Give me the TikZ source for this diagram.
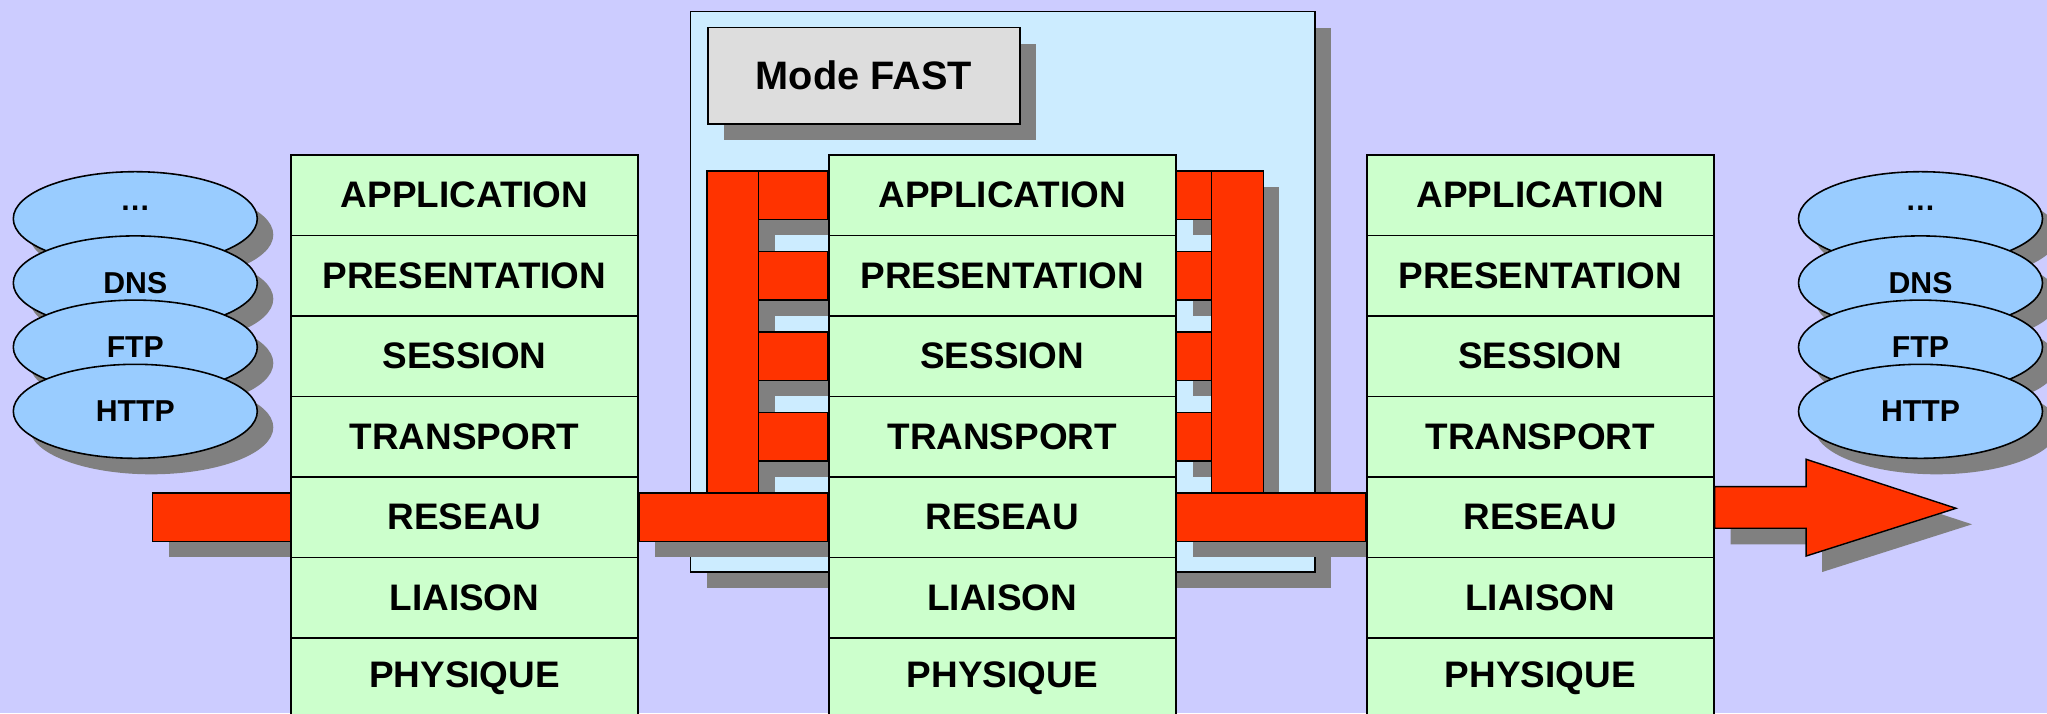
\documentclass[tikz,border=0pt]{standalone}
\usepackage{fontspec}
\setmainfont{Liberation Sans}
\usepackage{xcolor}
\usepackage{tikz}
\usetikzlibrary{calc,positioning,shapes.geometric,shadows}
\definecolor{fsbg}{RGB}{204,204,255}
\definecolor{fsgreen}{RGB}{204,255,204}
\definecolor{fscyan}{RGB}{204,236,255}
\definecolor{fsblue}{RGB}{153,204,255}
\definecolor{fsgrey}{RGB}{221,221,221}
\definecolor{fsred}{RGB}{255,51,0}
\definecolor{fsshade}{RGB}{128,128,128}
\pgfdeclarelayer{panel}
\pgfdeclarelayer{bars}
\pgfsetlayers{panel,bars,main}

\begin{document}
\begin{tikzpicture}[
  line width=0.45pt,
  dropgrey/.style={drop shadow={shadow xshift=0.16cm,shadow yshift=-0.16cm,fill=fsshade,opacity=1}},
  osi/.style={draw,fill=fsgreen,minimum width=3.47cm,minimum height=0.805cm,inner sep=0pt,
    font=\bfseries\fontsize{10.5}{12}\selectfont},
  proto/.style={ellipse,draw,fill=fsblue,dropgrey,minimum width=2.44cm,minimum height=0.94cm,inner sep=0pt,
    font=\bfseries\fontsize{8.6}{10}\selectfont},
  redbar/.style={draw,fill=fsred,dropgrey},
  zone/.style={draw,fill=fscyan,dropgrey,minimum width=6.245cm,minimum height=5.605cm},
  fastbox/.style={draw,fill=fsgrey,dropgrey,minimum width=3.12cm,minimum height=0.964cm,
    font=\bfseries\fontsize{11.3}{13}\selectfont}
]
  \useasboundingbox (0,0) rectangle (20.47,-7.13);
  \clip (0,0) rectangle (20.47,-7.13);

  % protocol piles on both sides
  \foreach \s/\x in {pl/1.353,pr/19.205}{
    \node[proto] (\s0) at (\x,-2.187) {\raisebox{0.87mm}[0pt][0pt]{…}};
    \node[proto] (\s1) at (\x,-2.829) {DNS};
    \node[proto] (\s2) at (\x,-3.471) {FTP};
    \node[proto] (\s3) at (\x,-4.113) {HTTP};
  }

  % the three OSI stacks
  \foreach \s/\x in {L/4.645,C/10.0225,R/15.4025}
    \foreach \t [count=\k] in {APPLICATION,PRESENTATION,SESSION,TRANSPORT,RESEAU,LIAISON,PHYSIQUE}
      \node[osi] (\s\k) at (\x,{-1.9525-0.805*(\k-1)}) {\t};

  \begin{pgfonlayer}{panel}
    \fill[fsbg] (0,0) rectangle (20.47,-7.13);
    \node[zone] (fastzone) at (10.0275,-2.9175) {};
    \node[fastbox] (fast) at (8.64,-0.758) {Mode FAST};
  \end{pgfonlayer}

  \begin{pgfonlayer}{bars}
    \coordinate (feed) at (1.527,-5.1725);
    \draw[redbar] ($(feed)+(0,0.242)$) rectangle ($(L5.west)+(0,-0.242)$);
    % left ladder
    \draw[redbar] ($(C1.west)+(-1.208,0.242)$) rectangle ($(C5.west)+(-0.692,0.242)$);
    \foreach \k in {1,...,4}
      \draw[redbar] ($(C\k.west)+(-0.692,0.242)$) rectangle ($(C\k.west)+(0,-0.242)$);
    % right ladder
    \foreach \k in {1,...,4}
      \draw[redbar] ($(C\k.east)+(0,0.242)$) rectangle ($(C\k.east)+(0.348,-0.242)$);
    \draw[redbar] ($(C1.east)+(0.348,0.242)$) rectangle ($(C5.east)+(0.868,0.242)$);
    % links between the stacks
    \draw[redbar] ($(L5.east)+(0,0.242)$) rectangle ($(C5.west)+(0,-0.242)$);
    \draw[redbar] ($(C5.east)+(0,0.242)$) rectangle ($(R5.west)+(0,-0.242)$);
    % outgoing arrow
    \coordinate (tip) at (19.56,-5.083);
    \draw[redbar] ($(R5.east)+(0,0.306)$) -- ($(R5.east)+(0.915,0.306)$)
      -- ($(R5.east)+(0.915,0.58)$) -- (tip) -- ($(R5.east)+(0.915,-0.388)$)
      -- ($(R5.east)+(0.915,-0.11)$) -- ($(R5.east)+(0,-0.11)$) -- cycle;
  \end{pgfonlayer}
\end{tikzpicture}
\end{document}
